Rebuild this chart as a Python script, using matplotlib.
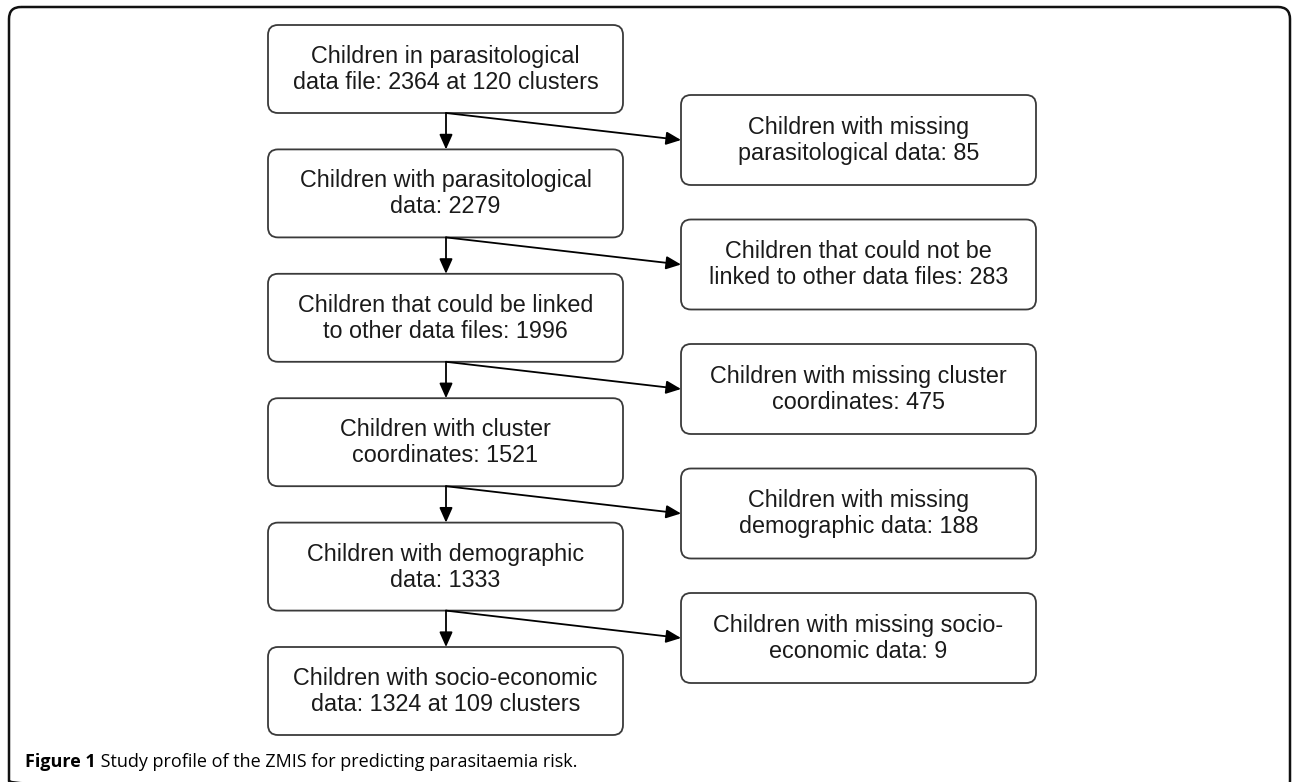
import matplotlib
matplotlib.use("Agg")
import matplotlib.pyplot as plt
from matplotlib.patches import FancyBboxPatch

# ---- data ----
main_steps = [
    ("Children in parasitological", "data file: 2364 at 120 clusters"),
    ("Children with parasitological", "data: 2279"),
    ("Children that could be linked", "to other data files: 1996"),
    ("Children with cluster", "coordinates: 1521"),
    ("Children with demographic", "data: 1333"),
    ("Children with socio-economic", "data: 1324 at 109 clusters"),
]
excluded_steps = [
    ("Children with missing", "parasitological data: 85"),
    ("Children that could not be", "linked to other data files: 283"),
    ("Children with missing cluster", "coordinates: 475"),
    ("Children with missing", "demographic data: 188"),
    ("Children with missing socio-", "economic data: 9"),
]
caption_bold = "Figure 1"
caption_text = " Study profile of the ZMIS for predicting parasitaemia risk."

# ---- layout (pixels) ----
W, H = 1292, 782
fig = plt.figure(figsize=(W / 100, H / 100), dpi=100)
ax = fig.add_axes([0, 0, 1, 1])
ax.set_xlim(0, W)
ax.set_ylim(H, 0)
ax.axis("off")

box_w, box_h = 355, 88
left_x = 268
right_x = 681
left_top0, left_pitch = 25, 124.4
right_top0, right_pitch = 95, 124.5
arrow_x = 446
edge_col = "#3a3a3a"
txt_col = "#1a1a1a"
fs = 16.8


def draw_box(x, top, lines, h):
    p = FancyBboxPatch((x, top), box_w, h,
                       boxstyle="round,pad=0,rounding_size=10",
                       fc="white", ec=edge_col, lw=1.3)
    ax.add_patch(p)
    cy = top + h / 2
    ax.text(x + box_w / 2, cy - 6, lines[0], ha="center", va="baseline",
            fontsize=fs, family="Liberation Sans", color=txt_col)
    ax.text(x + box_w / 2, cy + 20, lines[1], ha="center", va="baseline",
            fontsize=fs, family="Liberation Sans", color=txt_col)


# outer frame (bottom edge falls just outside the picture)
frame = FancyBboxPatch((9, 7), 1281, 786,
                       boxstyle="round,pad=0,rounding_size=12",
                       fc="none", ec="#111111", lw=1.8, clip_on=True)
ax.add_patch(frame)

for i, lines in enumerate(main_steps):
    draw_box(left_x, left_top0 + i * left_pitch, lines, box_h)

for i, lines in enumerate(excluded_steps):
    draw_box(right_x, right_top0 + i * right_pitch, lines, 90)

arrow_kw = dict(arrowstyle="-|>,head_length=0.45,head_width=0.2",
                mutation_scale=20, shrinkA=0, shrinkB=0,
                lw=1.3, color="black")
for i in range(len(main_steps) - 1):
    y0 = left_top0 + i * left_pitch + box_h
    y1 = left_top0 + (i + 1) * left_pitch
    ax.annotate("", xy=(arrow_x, y1), xytext=(arrow_x, y0),
                arrowprops=arrow_kw)
    ry = right_top0 + i * right_pitch + 45
    ax.annotate("", xy=(right_x, ry), xytext=(arrow_x, y0),
                arrowprops=arrow_kw)

# caption
t1 = ax.text(25, 767, caption_bold, ha="left", va="baseline",
             fontsize=13, fontweight="bold", family="Open Sans",
             color="black")
fig.canvas.draw()
bb = t1.get_window_extent()
x_end = bb.x1
ax.annotate(caption_text, xy=(x_end, 0), xycoords=("figure pixels", "data"),
            xytext=(x_end, 767), textcoords=("figure pixels", "data"),
            ha="left", va="baseline", fontsize=13, family="Open Sans",
            color="black")

fig.savefig("out.png", dpi=100)
